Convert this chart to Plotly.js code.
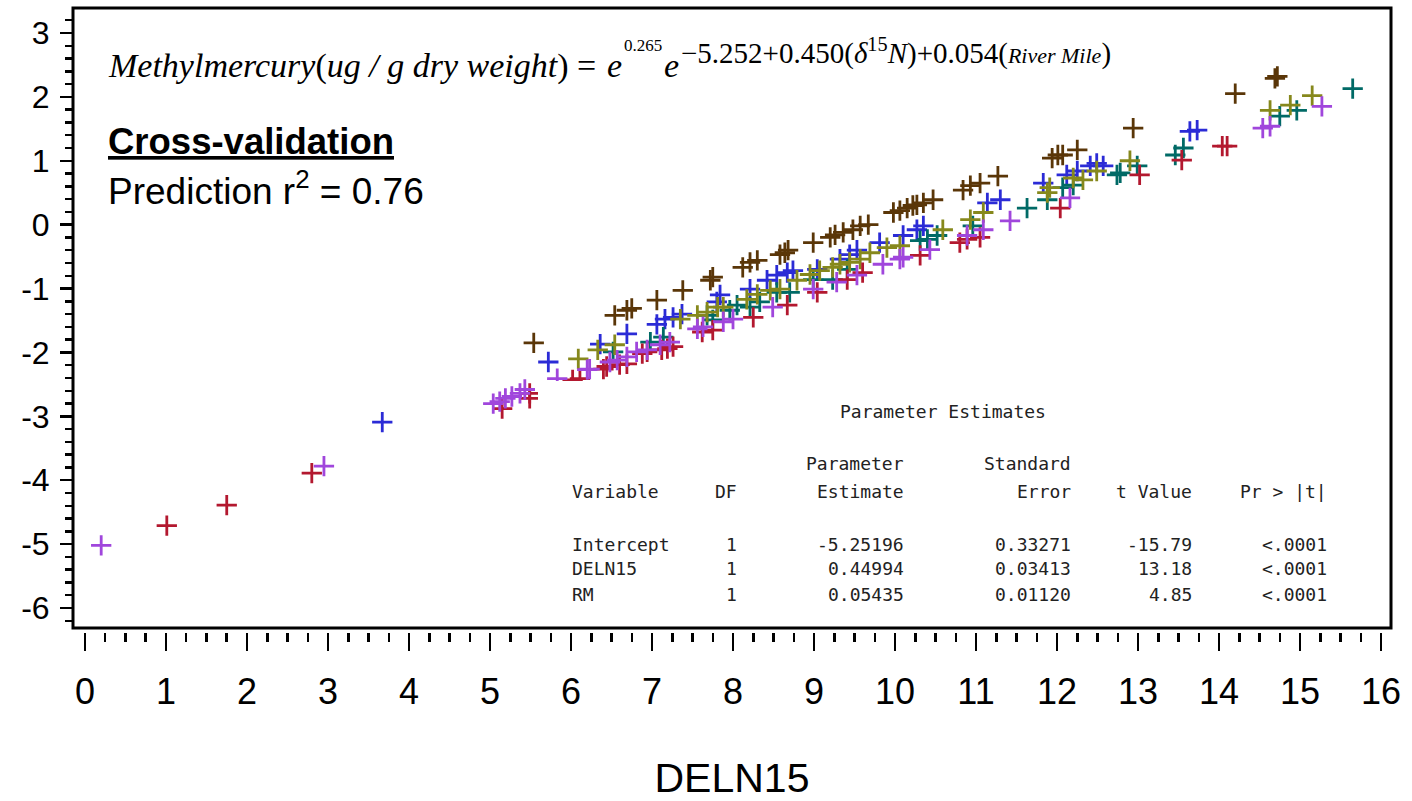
<!DOCTYPE html>
<html><head><meta charset="utf-8">
<script src="https://cdn.plot.ly/plotly-3.0.1.min.js"></script>
<style>html,body{margin:0;padding:0;background:#fff}#chart{width:1412px;height:801px}</style>
</head><body><div id="chart"></div>
<script>
// ---- data ----
const brownX = [5.54,6.54,6.69,6.75,7.06,7.38,7.72,7.75,8.12,8.21,8.30,8.58,8.64,8.68,8.99,9.20,9.26,9.36,9.48,9.57,9.67,9.98,10.06,10.15,10.22,10.27,10.35,10.47,10.84,10.93,11.05,11.27,11.94,12.01,12.07,12.25,12.94,14.20,14.69,14.72];
const brownY = [-1.85,-1.42,-1.34,-1.31,-1.18,-1.03,-0.87,-0.82,-0.67,-0.59,-0.56,-0.47,-0.44,-0.40,-0.28,-0.20,-0.16,-0.12,-0.08,-0.02,0.00,0.19,0.22,0.26,0.30,0.31,0.34,0.39,0.54,0.61,0.65,0.76,1.04,1.09,1.09,1.17,1.51,2.05,2.29,2.32];

const blueX = [3.67,5.72,6.36,6.69,7.06,7.16,7.26,7.37,7.80,7.84,8.21,8.42,8.54,8.67,8.74,9.04,9.32,9.44,9.53,9.81,10.10,10.27,10.35,11.14,11.30,11.83,12.12,12.25,12.41,12.49,12.57,13.64,13.73];
const blueY = [-3.09,-2.15,-1.87,-1.71,-1.56,-1.48,-1.45,-1.40,-1.21,-1.10,-1.01,-0.87,-0.79,-0.75,-0.72,-0.70,-0.54,-0.47,-0.40,-0.28,-0.17,-0.08,-0.02,0.34,0.39,0.65,0.78,0.84,0.92,0.96,0.92,1.46,1.48];

const tealX = [6.52,6.98,7.14,7.68,7.75,7.96,8.05,8.21,8.33,8.54,8.70,8.99,9.23,9.41,10.31,10.40,10.52,10.96,11.63,11.88,12.07,12.20,12.74,12.78,12.99,13.46,13.56,14.75,14.96,15.65];
const tealY = [-1.99,-1.84,-1.76,-1.42,-1.49,-1.34,-1.26,-1.29,-1.21,-1.06,-1.06,-0.86,-0.86,-0.70,-0.25,-0.23,-0.17,-0.02,0.26,0.39,0.58,0.62,0.78,0.81,0.92,1.09,1.20,1.70,1.79,2.13];

const oliveX = [6.09,6.33,6.54,7.35,7.56,7.68,7.81,7.88,8.17,8.30,8.46,8.58,8.79,8.95,9.07,9.23,9.32,9.44,9.57,9.69,9.90,10.06,10.59,10.93,11.09,11.88,11.91,12.20,12.32,12.49,12.90,14.63,14.88,15.15];
const oliveY = [-2.10,-1.96,-1.88,-1.48,-1.42,-1.37,-1.29,-1.29,-1.17,-1.09,-1.03,-1.01,-0.87,-0.78,-0.72,-0.67,-0.62,-0.59,-0.54,-0.44,-0.36,-0.33,-0.08,0.08,0.19,0.50,0.58,0.73,0.70,0.84,1.00,1.79,1.87,2.02];

const redX = [1.01,1.75,2.80,5.15,5.49,5.49,6.02,6.11,6.40,6.44,6.60,6.69,6.88,6.94,7.12,7.19,7.26,7.62,7.75,8.25,8.67,9.04,9.41,9.60,10.31,10.80,10.89,11.05,12.04,13.02,13.54,14.04,14.10];
const redY = [-4.71,-4.39,-3.89,-2.88,-2.72,-2.64,-2.43,-2.41,-2.26,-2.22,-2.19,-2.18,-2.02,-1.99,-1.96,-1.94,-1.91,-1.68,-1.65,-1.45,-1.26,-1.06,-0.86,-0.75,-0.48,-0.28,-0.23,-0.20,0.26,0.78,1.01,1.23,1.23];

const purpleX = [0.20,2.95,5.04,5.12,5.19,5.27,5.37,5.43,5.83,6.20,6.23,6.48,6.57,6.69,6.81,6.94,7.10,7.22,7.56,7.63,7.88,8.00,8.49,8.99,9.28,9.53,9.85,10.06,10.10,10.43,10.89,11.09,11.42,12.16,14.54,14.63,15.27];
const purpleY = [-5.02,-3.78,-2.80,-2.77,-2.72,-2.69,-2.64,-2.58,-2.41,-2.27,-2.26,-2.15,-2.12,-2.07,-1.99,-1.96,-1.88,-1.84,-1.63,-1.60,-1.52,-1.48,-1.29,-1.01,-0.90,-0.79,-0.62,-0.54,-0.51,-0.39,-0.17,-0.08,0.06,0.42,1.51,1.54,1.85];

const xTickVals = [0,1,2,3,4,5,6,7,8,9,10,11,12,13,14,15,16];
const yTickVals = [-6,-5,-4,-3,-2,-1,0,1,2,3];

const tableTitle = 'Parameter Estimates';
const tableHead1 = ['', '', 'Parameter', 'Standard', '', ''];
const tableHead2 = ['Variable', 'DF', 'Estimate', 'Error', 't Value', 'Pr > |t|'];
const tableRows = [
  ['Intercept', '1', '-5.25196', '0.33271', '-15.79', '<.0001'],
  ['DELN15',    '1', '0.44994',  '0.03413', '13.18',  '<.0001'],
  ['RM',        '1', '0.05435',  '0.01120', '4.85',   '<.0001']
];

// ---- layout helpers ----
const W = 1412, H = 801;
const M = {l: 73, r: 21, t: 8, b: 150};
const PW = W - M.l - M.r, PH = H - M.t - M.b;
const px = v => (v - M.l) / PW;
const py = v => (H - M.b - v) / PH;

const series = [
  {x: brownX, y: brownY, c: '#5a3608', n: 'Group 1'},
  {x: blueX, y: blueY, c: '#2b2bd6', n: 'Group 2'},
  {x: tealX, y: tealY, c: '#006a66', n: 'Group 3'},
  {x: oliveX, y: oliveY, c: '#86881c', n: 'Group 4'},
  {x: redX, y: redY, c: '#b3182f', n: 'Group 5'},
  {x: purpleX, y: purpleY, c: '#a046dc', n: 'Group 6'}
];
const traces = series.map(s => ({
  type: 'scatter', mode: 'markers', x: s.x, y: s.y, name: s.n,
  marker: {symbol: 'cross-thin', size: 14.5, color: s.c, line: {width: 2.8, color: s.c}},
  hoverinfo: 'x+y'
}));

const mono = {family: 'DejaVu Sans Mono', size: 18, color: '#222'};
const annotations = [];
function ann(text, x, y, xanchor, font, extra) {
  annotations.push(Object.assign({text, xref: 'paper', yref: 'paper', x: px(x), y: py(y),
    xanchor, yanchor: 'middle', showarrow: false, font, borderpad: 0}, extra || {}));
}
// equation
const serif = {family: 'Liberation Serif', size: 34, color: '#000'};
ann('<i>Methylmercury</i>(<i>ug / g dry weight</i>) =', 107, 66, 'left', serif);
ann('<i>e</i>', 606, 66, 'left', serif);
ann('0.265', 623, 45, 'left', {family: 'Liberation Serif', size: 17, color: '#000'});
ann('<i>e</i>', 663, 66, 'left', serif);
ann('\u22125.252+0.450(<i>\u03b4</i><sup>15</sup><i>N</i>)+0.054(<span style="font-size:22px"><i>River Mile</i></span>)', 680, 51, 'left', {family: 'Liberation Serif', size: 29, color: '#000'});
// cross-validation
ann('<b>Cross-validation</b>', 107, 142, 'left', {family: 'Liberation Sans', size: 36.5, color: '#000', lineposition: 'under'});
ann('Prediction r<sup>2</sup> = 0.76', 107, 188, 'left', {family: 'Liberation Sans', size: 37, color: '#000'});
// table
const colRight = [null, 738, 905, 1072, 1193, 1328];
ann(tableTitle, 943, 411, 'center', mono);
tableHead1.forEach((t, i) => { if (t) ann(t, colRight[i], 463, 'right', mono); });
tableHead2.forEach((t, i) => { if (i === 0) ann(t, 571, 491, 'left', mono); else ann(t, colRight[i], 491, 'right', mono); });
const rowY = [544, 568, 594];
tableRows.forEach((r, j) => r.forEach((t, i) => {
  if (i === 0) ann(t, 571, rowY[j], 'left', mono); else ann(t, colRight[i], rowY[j], 'right', mono);
}));

const layout = {
  width: W, height: H, margin: M, showlegend: false,
  paper_bgcolor: '#fff', plot_bgcolor: '#fff',
  xaxis: {
    range: [-0.148, 16.123], anchor: 'free', position: py(632), domain: [0, 1],
    showgrid: false, zeroline: false, showline: false,
    tickmode: 'array', tickvals: xTickVals, ticktext: xTickVals.map(String),
    ticks: 'outside', ticklen: 18, tickwidth: 2.5, tickcolor: '#000',
    minor: {dtick: 0.25, tick0: 0, ticks: 'outside', ticklen: 9, tickwidth: 2.5, tickcolor: '#000', showgrid: false},
    tickfont: {family: 'Liberation Sans', size: 36, color: '#000'},
    ticklabelstandoff: 10,
    title: {text: 'DELN15', font: {family: 'Liberation Sans', size: 41, color: '#000'}, standoff: 66},
    automargin: false, fixedrange: true
  },
  yaxis: {
    range: [-6.313, 3.391], domain: [py(628), 1], anchor: 'x',
    showgrid: false, zeroline: false, showline: false,
    tickmode: 'array', tickvals: yTickVals, ticktext: yTickVals.map(String),
    ticks: 'outside', ticklen: 12, tickwidth: 2.5, tickcolor: '#000',
    minor: {dtick: 0.2, tick0: 0, ticks: 'outside', ticklen: 7, tickwidth: 2.5, tickcolor: '#000', showgrid: false},
    tickfont: {family: 'Liberation Sans', size: 32, color: '#000'},
    ticklabelstandoff: 4,
    automargin: false, fixedrange: true
  },
  shapes: [
    {type: 'rect', xref: 'paper', yref: 'paper', x0: px(538), x1: px(1345), y0: py(612), y1: py(381),
     fillcolor: '#fff', line: {width: 0}, layer: 'above'},
    {type: 'rect', xref: 'x domain', yref: 'y domain', x0: 0, x1: 1, y0: 0, y1: 1,
     line: {width: 3, color: '#000'}, fillcolor: 'rgba(0,0,0,0)', layer: 'above'}
  ],
  annotations
};
Plotly.newPlot('chart', traces, layout, {displayModeBar: false, staticPlot: true});
</script></body></html>
